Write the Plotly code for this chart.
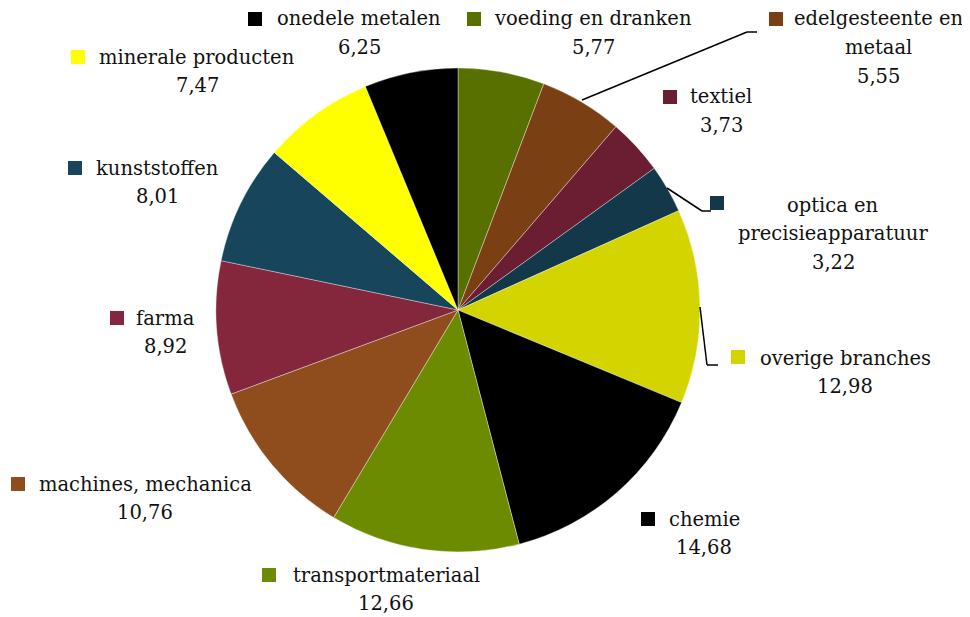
import plotly.graph_objects as go

W, H = 970, 617

# ---- data ----
categories = ["voeding en dranken", "edelgesteente en metaal", "textiel",
              "optica en precisieapparatuur", "overige branches", "chemie",
              "transportmateriaal", "machines, mechanica", "farma",
              "kunststoffen", "minerale producten", "onedele metalen"]
values = [5.77, 5.55, 3.73, 3.22, 12.98, 14.68, 12.66, 10.76, 8.92, 8.01, 7.47, 6.25]
colors = ["#587000", "#7a4013", "#6b1d32", "#12384a", "#d4d400", "#000000",
          "#6d8b00", "#8f4c1c", "#84263c", "#17465c", "#ffff00", "#000000"]
label_lines = [["voeding en dranken"], ["edelgesteente en", "metaal"], ["textiel"],
               ["optica en", "precisieapparatuur"], ["overige branches"], ["chemie"],
               ["transportmateriaal"], ["machines, mechanica"], ["farma"],
               ["kunststoffen"], ["minerale producten"], ["onedele metalen"]]

# ---- label layout (pixel positions in the page: square centre, text centre x, first line y) ----
label_pos = [
    ((474, 19), 593, 19),
    ((776, 19), 878, 19),
    ((670, 97), 721, 97),
    ((717, 203), 833, 205),
    ((738, 357), 845, 358),
    ((648, 519), 704, 519),
    ((269, 575), 386, 575),
    ((18, 484), 145, 484),
    ((117, 318), 165, 318),
    ((75, 168), 157, 168),
    ((78, 57), 197, 57),
    ((255, 19), 359, 19),
]
leader_lines = [
    [(582, 100), (747, 32), (757, 32)],
    [(667, 188), (702, 211), (711, 211)],
    [(700, 307), (707, 365), (718, 365)],
]

FONT = "DejaVu Serif"
FS = 19.5
STEP = 28.5
OFF = 8  # page body margin offset

def px(x):
    return (x - OFF) / W

def py(y):
    return 1 - (y - OFF) / H

cx, cy, r = 458, 310, 242

fig = go.Figure(go.Pie(
    labels=categories, values=values, sort=False, direction="clockwise",
    rotation=0, textinfo="none", hoverinfo="label+value",
    marker=dict(colors=colors, line=dict(color="rgba(255,255,255,0.6)", width=0.6)),
    domain=dict(x=[px(cx - r), px(cx + r)], y=[py(cy + r), py(cy - r)]),
    showlegend=False,
))

annotations = []
shapes = []
for i, (lines, val) in enumerate(zip(label_lines, values)):
    (sx, sy), tx, ty = label_pos[i]
    shapes.append(dict(type="rect", xref="paper", yref="paper",
                       x0=px(sx - 7), x1=px(sx + 7), y0=py(sy + 7), y1=py(sy - 7),
                       fillcolor=colors[i], line=dict(width=0)))
    all_lines = lines + [f"{val:.2f}".replace(".", ",")]
    for k, t in enumerate(all_lines):
        annotations.append(dict(text=t, x=px(tx), y=py(ty + k * STEP),
                                xref="paper", yref="paper", showarrow=False,
                                xanchor="center", yanchor="middle",
                                font=dict(family=FONT, size=FS, color="#111111")))

for pts in leader_lines:
    for a, b in zip(pts[:-1], pts[1:]):
        shapes.append(dict(type="line", xref="paper", yref="paper",
                           x0=px(a[0]), y0=py(a[1]), x1=px(b[0]), y1=py(b[1]),
                           line=dict(color="#000000", width=1.5)))

fig.update_layout(
    width=W, height=H, margin=dict(l=0, r=0, t=0, b=0),
    paper_bgcolor="white", plot_bgcolor="white",
    annotations=annotations, shapes=shapes,
)

fig.write_html("out.html")
